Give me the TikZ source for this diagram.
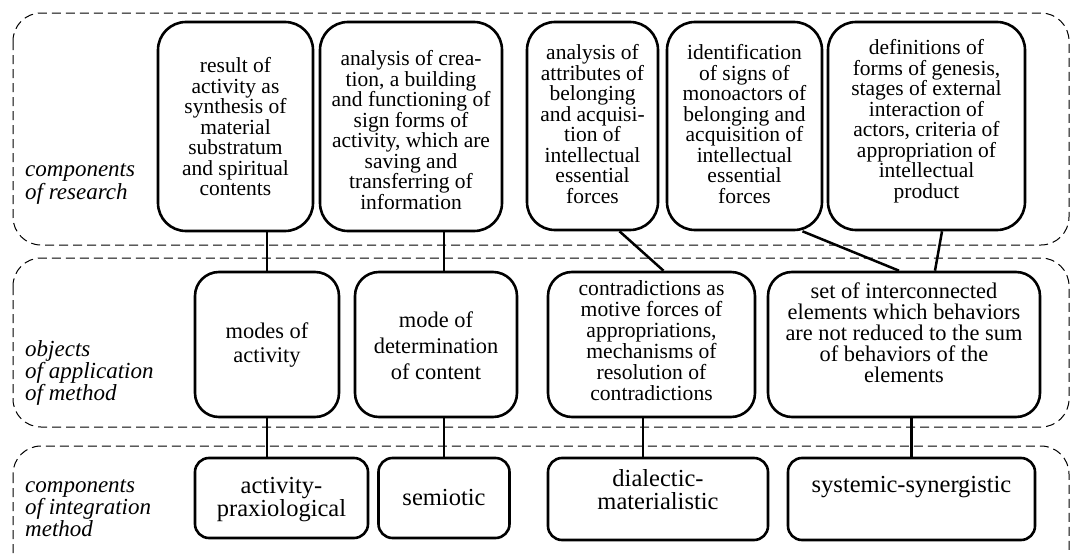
\documentclass[tikz,border=0pt]{standalone}
\usepackage{fontspec}
\setmainfont{Liberation Serif}
\begin{document}
\begin{tikzpicture}[x=1pt,y=-1pt,
  band/.style={draw=black, line width=1pt, dash pattern=on 9pt off 5pt, rounded corners=28pt},
  topbox/.style={draw, line width=2.6pt, rounded corners=28pt, inner sep=0pt},
  midbox/.style={draw, line width=2.6pt, rounded corners=24pt, inner sep=0pt},
  botbox/.style={draw, line width=2.6pt, rounded corners=14pt, inner sep=0pt},
  link/.style={line width=2.5pt},
  ttxt/.style={align=center, inner sep=0pt, font=\fontsize{21.5}{20.5}\selectfont},
  mtxt/.style={align=center, inner sep=0pt, font=\fontsize{22.4}{#1}\selectfont},
  ctxt/.style={align=center, inner sep=0pt, font=\fontsize{21.6}{21}\selectfont},
  btxt/.style={align=center, inner sep=0pt, font=\fontsize{24.5}{23}\selectfont},
  lab/.style={align=left, inner sep=0pt, anchor=west, font=\fontsize{23}{19.5}\selectfont\itshape}
]
\useasboundingbox (0,0) rectangle (1074,554);
\fill[white] (0,0) rectangle (1074,554);

% dashed bands of the three levels
\draw[band] (13,13) rectangle (1069,245);
\draw[band] (13,258) rectangle (1069,427);
\begin{scope}
  \clip (0,0) rectangle (1074,554);
  \draw[band] (13,446) rectangle (1069,640);
\end{scope}

% level captions
\node[lab] (lres) at (25,184) {components\\of research};
\node[lab] (lobj) at (25,373) {objects\\of application\\of method};
\node[lab] (lint) at (25,508) {components\\of integration\\method};

% components of research
\node[topbox, minimum width=155pt, minimum height=209pt] (r1) at (235.5,126.5) {};
\node[topbox, minimum width=182pt, minimum height=209pt] (r2) at (411,126.5) {};
\node[topbox, minimum width=131pt, minimum height=208pt] (r3) at (592.5,126) {};
\node[topbox, minimum width=155pt, minimum height=208pt] (r4) at (744.5,126) {};
\node[topbox, minimum width=197pt, minimum height=208pt] (r5) at (926.5,126) {};

\node[ttxt] (t1) at (235.5,127) {result of\\activity as\\synthesis of\\material\\substratum\\and spiritual\\contents};
\node[ttxt] (t2) at (411,130) {analysis of crea-\\tion, a building\\and functioning of\\sign forms of\\activity, which are\\saving and\\transferring of\\information};
\node[ttxt] (t3) at (592.5,124) {analysis of\\attributes of\\belonging\\and acquisi-\\tion of\\intellectual\\essential\\forces};
\node[ttxt] (t4) at (744.5,124) {identification\\of signs of\\monoactors of\\belonging and\\acquisition of\\intellectual\\essential\\forces};
\node[ttxt] (t5) at (926.5,121) {definitions of\\forms of genesis,\\stages of external\\interaction of\\actors, criteria of\\appropriation of\\intellectual\\product};

% objects of application of method
\node[midbox, minimum width=144pt, minimum height=145pt] (m1) at (267,344.5) {};
\node[midbox, minimum width=162pt, minimum height=145pt] (m2) at (436,344.5) {};
\node[midbox, minimum width=207pt, minimum height=145pt] (m3) at (651.5,344.5) {};
\node[midbox, minimum width=272pt, minimum height=145pt] (m4) at (904,344.5) {};

\node[mtxt=24] (u1) at (267,345) {modes of\\activity};
\node[mtxt=26] (u2) at (436,346) {mode of\\determination\\of content};
\node[ctxt] (u3) at (651.5,341) {contradictions as\\motive forces of\\appropriations,\\mechanisms of\\resolution of\\contradictions};
\node[mtxt=21] (u4) at (904,333) {set of interconnected\\elements which behaviors\\are not reduced to the sum\\of behaviors of the\\elements};

% components of integration method
\node[botbox, minimum width=173pt, minimum height=80pt] (b1) at (281.5,498) {};
\node[botbox, minimum width=131pt, minimum height=80pt] (b2) at (444,498) {};
\node[botbox, minimum width=220pt, minimum height=82pt] (b3) at (658,499) {};
\node[botbox, minimum width=247pt, minimum height=82pt] (b4) at (911.5,499) {};

\node[btxt] (v1) at (281.5,500) {activity-\\praxiological};
\node[btxt] (v2) at (444,498) {semiotic};
\node[btxt] (v3) at (658,490) {dialectic-\\materialistic};
\node[btxt] (v4) at (911.5,487) {systemic-synergistic};

% links between levels
\draw[link] (r1.south -| m1.north) -- (m1.north);
\draw[link] (m1.south) -- (m1.south |- b1.north);
\draw[link] (r2.south -| b2.north) -- (m2.north -| b2.north);
\draw[link] (m2.south -| b2.north) -- (b2.north);
\draw[link] ([xshift=27pt]r3.south) -- ([xshift=12pt]m3.north);
\draw[link] ([xshift=-8.5pt]m3.south) -- ([xshift=-8.5pt]m3.south |- b3.north);
\draw[link] ([xshift=58pt]r4.south) -- ([xshift=-5pt]m4.north);
\draw[link] ([xshift=15.5pt]r5.south) -- ([xshift=31pt]m4.north);
\draw[link] (m4.south -| b4.north) -- (b4.north);
\end{tikzpicture}
\end{document}
